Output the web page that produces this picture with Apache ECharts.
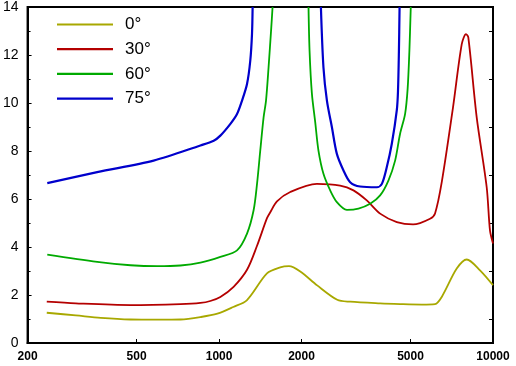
<!DOCTYPE html>
<html><head><meta charset="utf-8">
<script src="https://cdn.jsdelivr.net/npm/echarts@6/dist/echarts.min.js"></script>
<style>html,body{margin:0;padding:0;background:#fff}#c{width:516px;height:366px}</style>
</head><body><div id="c"></div>
<script>
const seriesNames = ['0°', '30°', '60°', '75°'];
const xTickLabels = [200, 500, 1000, 2000, 5000, 10000];
const xInnerTicks = [500, 1000, 2000, 5000];
const rightTicks = [1, 3, 5, 7, 9, 11, 13];

const deg0 = [[235,1.26],[300,1.15],[370,1.05],[475,0.98],[600,0.97],[723,0.98],[855,1.08],[986,1.22],[1127,1.5],[1265,1.79],[1496,2.9],[1672,3.15],[1800,3.2],[1979,2.98],[2281,2.4],[2700,1.8],[3010,1.72],[3872,1.65],[4578,1.62],[5500,1.6],[6144,1.62],[6500,1.92],[7372,3.1],[8018,3.48],[8966,3.03],[10000,2.41]];
const deg30 = [[235,1.72],[300,1.65],[475,1.58],[723,1.62],[855,1.67],[929,1.75],[1011,1.92],[1130,2.34],[1265,3.05],[1376,4.05],[1496,5.2],[1538,5.45],[1627,5.9],[1819,6.29],[2276,6.63],[2767,6.56],[3095,6.36],[3462,5.94],[3872,5.39],[4455,5.04],[5107,4.94],[5892,5.18],[6144,5.4],[6500,6.7],[7146,9.82],[7690,12.45],[7970,12.87],[8126,12.73],[8720,9.4],[9484,6.49],[9750,4.69],[10000,4.15]];
const deg60 = [[236,3.68],[359,3.38],[475,3.24],[594,3.2],[723,3.23],[855,3.35],[1011,3.59],[1163,3.86],[1265,4.56],[1337,5.53],[1376,6.63],[1414,8.02],[1454,9.4],[1484,10.1],[1516,11.48],[1551,13.14],[1568,14],[1800,'-'],[2121,14],[2140,12.17],[2182,10.4],[2244,9.2],[2306,8.02],[2405,7.05],[2545,6.36],[2692,5.87],[2928,5.55],[3227,5.6],[3561,5.8],[3872,6.15],[4151,6.77],[4392,7.6],[4578,8.71],[4777,9.55],[4880,10.6],[4952,12.17],[5010,14]];
const deg75 = [[236,6.66],[359,7.12],[577,7.6],[855,8.23],[956,8.43],[1011,8.64],[1100,9.13],[1163,9.54],[1213,10.1],[1265,10.79],[1300,11.76],[1319,12.87],[1326,14],[1800,'-'],[2354,14],[2405,11.48],[2476,10.1],[2582,8.99],[2692,7.88],[2846,7.19],[3010,6.7],[3273,6.52],[3766,6.49],[3929,6.63],[4096,7.33],[4272,8.3],[4455,9.7],[4500,10.5],[4535,12.17],[4560,14]];

const colors = ['#a8a800', '#b40000', '#00aa00', '#0000cc'];
const datasets = [deg0, deg30, deg60, deg75];

const chart = echarts.init(document.getElementById('c'), null, {renderer: 'canvas'});
const font = 'Liberation Sans, Arial, sans-serif';
chart.setOption({
  animation: false,
  color: colors,
  grid: {left: 27, right: 23, top: 6, bottom: 23, show: true, borderColor: '#000', borderWidth: 2, backgroundColor: 'transparent'},
  legend: {
    orient: 'vertical', left: 57, top: 16, padding: 0,
    icon: 'rect', itemWidth: 56, itemHeight: 2.2, itemGap: 7.7,
    textStyle: {fontFamily: font, fontSize: 17, color: '#000', padding: [0,0,0,7], lineHeight: 17},
    data: seriesNames
  },
  xAxis: [{
    type: 'log', logBase: 10, min: 200, max: 10000,
    axisLine: {show: true, lineStyle: {color: '#000', width: 2}},
    axisTick: {show: true, inside: true, length: 4, customValues: xInnerTicks, lineStyle: {color: '#000'}},
    minorTick: {show: false},
    splitLine: {show: false},
    axisLabel: {customValues: xTickLabels, margin: 8, fontFamily: font, fontSize: 12, fontWeight: 'bold', color: '#000',
      formatter: v => String(Math.round(v))}
  }],
  yAxis: [{
    type: 'value', min: 0, max: 14, interval: 2,
    axisLine: {show: true, lineStyle: {color: '#000', width: 2}},
    axisTick: {show: true, inside: true, length: 4, lineStyle: {color: '#000'}},
    minorTick: {show: true, splitNumber: 2, length: 3, lineStyle: {color: '#000'}},
    splitLine: {show: false},
    axisLabel: {margin: 9, fontFamily: font, fontSize: 14, color: '#000'}
  }, {
    type: 'value', min: 0, max: 14, position: 'right',
    axisLine: {show: true, lineStyle: {color: '#000', width: 1.5}},
    axisTick: {show: true, inside: true, length: 4, customValues: rightTicks, lineStyle: {color: '#000'}},
    splitLine: {show: false},
    axisLabel: {show: false}
  }],
  series: datasets.map((d, i) => ({
    name: seriesNames[i], type: 'line', data: d, symbol: 'none', smooth: 0.3,
    connectNulls: false, clip: true,
    lineStyle: {width: i === 3 ? 2.2 : 1.8, color: colors[i]},
    itemStyle: {color: colors[i]}
  }))
});
</script></body></html>
